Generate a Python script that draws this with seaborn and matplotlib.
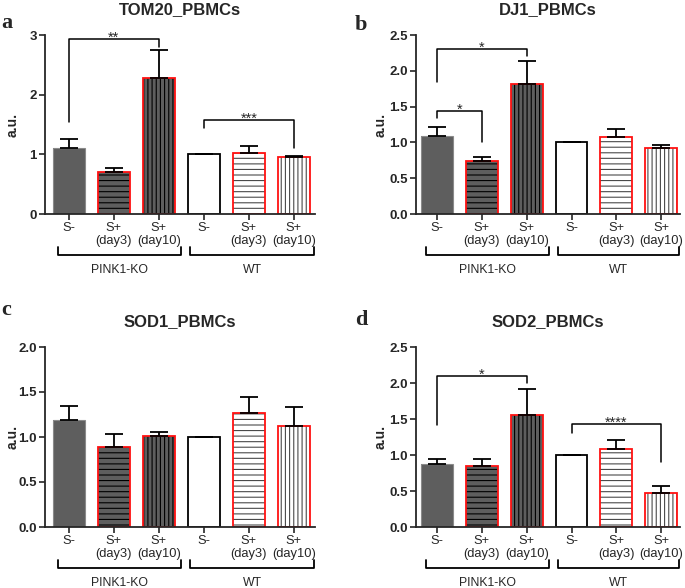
import matplotlib.pyplot as plt
import seaborn as sns
import pandas as pd

sns.set_style('ticks')
plt.rcParams['font.family'] = ['Liberation Sans', 'DejaVu Sans']
plt.rcParams['hatch.linewidth'] = 0.8

# bar order / labels
groups = ['KO_neg', 'KO_d3', 'KO_d10', 'WT_neg', 'WT_d3', 'WT_d10']
tick_labels = ['S-', 'S+\n(day3)', 'S+\n(day10)', 'S-', 'S+\n(day3)', 'S+\n(day10)']
genotypes = ['PINK1-KO', 'WT']

# values (mean, upper SEM)
tom20_mean = [1.10, 0.71, 2.28, 1.00, 1.03, 0.96]
tom20_err = [0.16, 0.06, 0.47, 0.00, 0.11, 0.02]
dj1_mean = [1.09, 0.74, 1.81, 1.00, 1.08, 0.92]
dj1_err = [0.12, 0.06, 0.33, 0.00, 0.11, 0.04]
sod1_mean = [1.19, 0.89, 1.01, 1.00, 1.27, 1.12]
sod1_err = [0.15, 0.14, 0.05, 0.00, 0.17, 0.21]
sod2_mean = [0.87, 0.85, 1.56, 1.00, 1.09, 0.47]
sod2_err = [0.08, 0.09, 0.36, 0.00, 0.12, 0.10]

# significance brackets: (bar i, bar j, bracket y, left leg end, right leg end, label)
tom20_sig = [(0, 2, 2.94, 1.54, 2.80, '**'), (3, 5, 1.57, 1.44, 1.10, '***')]
dj1_sig = [(0, 2, 2.31, 1.85, 2.20, '*'), (0, 1, 1.44, 1.34, 1.00, '*')]
sod1_sig = []
sod2_sig = [(0, 2, 2.10, 1.41, 2.00, '*'), (3, 5, 1.43, 1.31, 0.90, '****')]

# styling per bar
fills = ['#5e5e5e', '#5e5e5e', '#5e5e5e', 'white', 'white', 'white']
edges = ['#8a8a8a', '#ff1111', '#ff1111', 'black', '#ff1111', '#ff1111']
hatches = ['', '---', '||||', '', '---', '||||']
hatch_cols = ['black', 'black', 'black', 'black', '#4a4a4a', '#4a4a4a']

fig = plt.figure(figsize=(6.85, 5.88), dpi=100)
W, H = 685, 588

panels = [
    ('a', 'TOM20_PBMCs', tom20_mean, tom20_err, tom20_sig, [0, 1, 2, 3], '%d',
     [45 / W, 1 - 214 / H, 270 / W, 179 / H], (-0.53, 5.47), (1 / W, 1 - 28 / H)),
    ('b', 'DJ1_PBMCs', dj1_mean, dj1_err, dj1_sig, [0, 0.5, 1, 1.5, 2, 2.5], '%.1f',
     [416 / W, 1 - 214 / H, 264 / W, 179 / H], (-0.47, 5.42), (355 / W, 1 - 30 / H)),
    ('c', 'SOD1_PBMCs', sod1_mean, sod1_err, sod1_sig, [0, 0.5, 1, 1.5, 2], '%.1f',
     [45 / W, 1 - 527 / H, 270 / W, 180 / H], (-0.53, 5.47), (1 / W, 1 - 315 / H)),
    ('d', 'SOD2_PBMCs', sod2_mean, sod2_err, sod2_sig, [0, 0.5, 1, 1.5, 2, 2.5], '%.1f',
     [416 / W, 1 - 527 / H, 264 / W, 180 / H], (-0.47, 5.42), (355 / W, 1 - 325 / H)),
]

for letter, title, mean, err, sig, yticks, fmt, pos, xlim, lpos in panels:
    ax = fig.add_axes(pos)
    df = pd.DataFrame({'group': groups, 'value': mean})

    # layer 1: fill + hatch
    sns.barplot(data=df, x='group', y='value', order=groups, errorbar=None,
                width=0.71, color='white', ax=ax)
    bars = sorted(ax.patches, key=lambda p: p.get_x())
    for p, fc, h, hc in zip(bars, fills, hatches, hatch_cols):
        p.set_facecolor(fc)
        p.set_edgecolor(hc)
        p.set_hatch(h)
        p.set_linewidth(0)
    n_first = len(ax.patches)

    # layer 2: outlines
    sns.barplot(data=df, x='group', y='value', order=groups, errorbar=None,
                width=0.71, fill=False, color='black', ax=ax)
    outlines = sorted(ax.patches[n_first:], key=lambda p: p.get_x())
    for p, ec in zip(outlines, edges):
        p.set_edgecolor(ec)
        p.set_linewidth(1.3 if ec != '#8a8a8a' else 0.8)

    # upper-only error bars
    ax.errorbar(range(len(groups)), mean, yerr=[[0] * len(err), err], fmt='none',
                ecolor='black', elinewidth=1.3, capsize=6.5, capthick=1.3, zorder=1)

    for i, j, y, ly, ry, lab in sig:
        ax.plot([i, i, j, j], [ly, y, y, ry], color='black', lw=1.1, clip_on=False)
        ax.annotate(lab, ((i + j) / 2, y), xytext=(0, -2), textcoords='offset points',
                    ha='center', va='baseline', fontsize=10.5)

    ax.set_xlim(*xlim)
    ax.set_ylim(yticks[0], yticks[-1])
    ax.set_yticks(yticks)
    ax.set_yticklabels([fmt % t for t in yticks], fontsize=9.5, fontweight='bold')
    ax.set_xticks(range(len(groups)))
    ax.set_xticklabels(tick_labels, fontsize=9.3, linespacing=1.1)
    ax.set_xlabel('')
    ax.set_ylabel('a.u.', fontsize=10, fontweight='bold')
    lab_x = (20 if letter in 'ac' else 388) - pos[0] * W
    ax.yaxis.set_label_coords(lab_x / (pos[2] * W), 0.5)
    ax.set_title(title, fontsize=12, fontweight='bold', pad=15)
    sns.despine(ax=ax)
    for s in ['left', 'bottom']:
        ax.spines[s].set_linewidth(1.3)
    ax.tick_params(axis='both', length=4, width=1.2, pad=2)

    # genotype brackets under the tick labels
    ax_h = pos[3] * H
    tr = ax.get_xaxis_transform()
    y_line = -41 / ax_h
    y_tick = -33 / ax_h
    y_lab = -56 / ax_h
    for (x0, x1), name in zip([(-0.25, 2.5), (2.7, xlim[1] - 0.03)], genotypes):
        ax.plot([x0, x0, x1, x1], [y_tick, y_line, y_line, y_tick], color='black',
                lw=1.3, transform=tr, clip_on=False)
        ax.text((x0 + x1) / 2, y_lab, name, transform=tr, ha='center', va='center',
                fontsize=8.8)

    fig.text(lpos[0], lpos[1], letter, family=['Liberation Serif', 'DejaVu Serif'],
             fontweight='bold', fontsize=16, va='baseline', ha='left')

fig.savefig('out.png', dpi=100)
